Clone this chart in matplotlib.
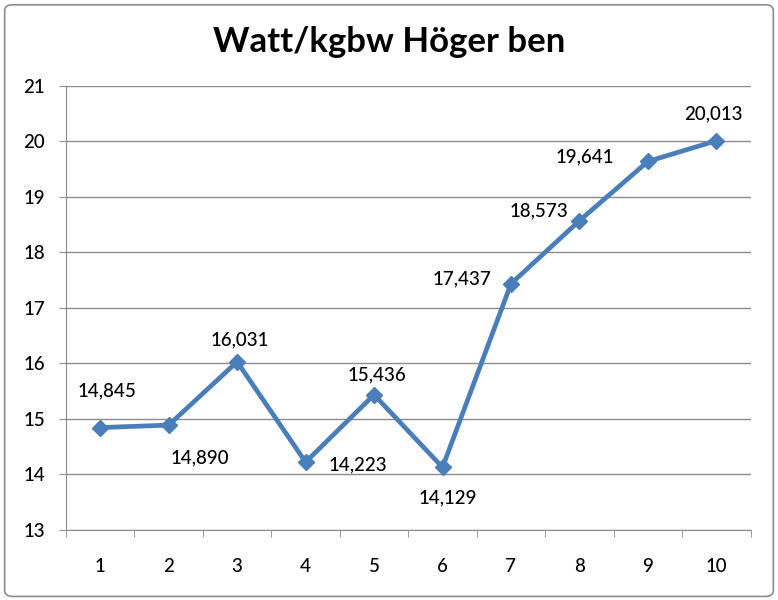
import matplotlib.pyplot as plt
from matplotlib.patches import FancyBboxPatch

plt.rcParams['font.family'] = ['Lato', 'DejaVu Sans']

categories = ['1', '2', '3', '4', '5', '6', '7', '8', '9', '10']
values = [14.845, 14.890, 16.031, 14.223, 15.436, 14.129, 17.437, 18.573, 19.641, 20.013]
# label offsets in pixels (dx, dy)
label_offsets = [(7, 37), (31, -33), (3, 22), (52, -3), (3, 20),
                 (5, -31), (-49, 5), (-40, 10), (-63, 5), (-3, 27)]

fig = plt.figure(figsize=(7.78, 6), dpi=100)
border = FancyBboxPatch((0.006, 0.006), 0.988, 0.986, boxstyle='round,pad=0,rounding_size=0.01',
                        transform=fig.transFigure, facecolor='none', edgecolor='#8c8c8c', linewidth=1.2)
fig.patches.append(border)

ax = fig.add_axes([0.0848, 0.1167, 0.880, 0.74])
ax.patch.set_alpha(0)
x = list(range(1, len(values) + 1))
ax.plot(x, values, color='#4A7EBB', linewidth=3.4, marker='D', markersize=8.5, zorder=3)

for xi, v, (dx, dy) in zip(x, values, label_offsets):
    ax.annotate(f'{v:.3f}'.replace('.', ','), (xi, v), xytext=(dx, dy), textcoords='offset pixels',
                ha='center', va='center', fontsize=13.5, fontweight='medium', color='black')

ax.set_xlim(0.5, 10.5)
ax.set_ylim(13, 21)
ax.set_yticks(range(13, 22))
ax.set_xticks(x)
ax.set_xticklabels(categories)
ax.set_xticks([i + 0.5 for i in range(0, 11)], minor=True)
ax.tick_params(axis='x', which='major', length=0, pad=20, labelsize=13.5)
ax.tick_params(axis='x', which='minor', length=5, color='#8c8c8c', direction='out')
ax.tick_params(axis='y', length=5, color='#8c8c8c', direction='out', pad=10, labelsize=13.5)
for lbl in ax.get_xticklabels() + ax.get_yticklabels():
    lbl.set_fontweight('medium')
ax.grid(axis='y', color='#8c8c8c', linewidth=1)
ax.set_axisbelow(True)
for side in ['top', 'right']:
    ax.spines[side].set_visible(False)
for side in ['left', 'bottom']:
    ax.spines[side].set_color('#8c8c8c')

fig.text(0.5, 0.93, 'Watt/kgbw Höger ben', ha='center', va='center', fontsize=25, fontweight='bold')

fig.savefig('out.png', dpi=100)
